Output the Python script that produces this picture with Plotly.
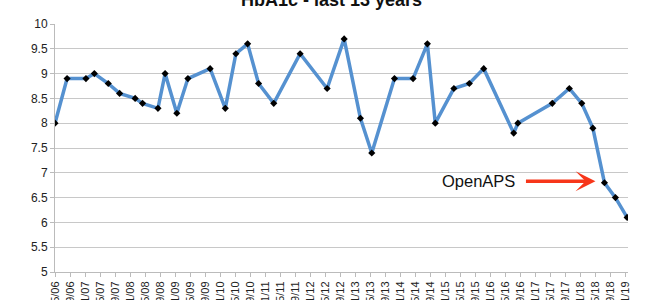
import plotly.graph_objects as go

dates = ["2006-05-01", "2006-08-07", "2007-01-07", "2007-03-16", "2007-07-07", "2007-10-07",
         "2008-02-10", "2008-04-10", "2008-08-13", "2008-10-10", "2009-01-13", "2009-04-13",
         "2009-10-10", "2010-02-10", "2010-05-07", "2010-08-10", "2010-11-07", "2011-03-10",
         "2011-10-10", "2012-05-16", "2012-10-01", "2013-02-10", "2013-05-13", "2013-11-13",
         "2014-04-13", "2014-08-07", "2014-10-10", "2015-03-10", "2015-07-13", "2015-11-07",
         "2016-07-07", "2016-08-10", "2017-05-16", "2017-10-01", "2018-01-10", "2018-04-10",
         "2018-07-13", "2018-10-10", "2019-01-13"]
hba1c = [8.0, 8.9, 8.9, 9.0, 8.8, 8.6,
         8.5, 8.4, 8.3, 9.0, 8.2, 8.9,
         9.1, 8.3, 9.4, 9.6, 8.8, 8.4,
         9.4, 8.7, 9.7, 8.1, 7.4, 8.9,
         8.9, 9.6, 8.0, 8.7, 8.8, 9.1,
         7.8, 8.0, 8.4, 8.7, 8.4, 7.9,
         6.8, 6.5, 6.1]

title_text = "HbA1c - last 13 years"
note_text = "OpenAPS"

fig = go.Figure()
fig.add_trace(go.Scatter(
    x=dates, y=hba1c, mode="lines+markers",
    line=dict(color="#5591D0", width=3.5),
    marker=dict(symbol="diamond", color="black", size=5.5),
    showlegend=False, hoverinfo="skip"))

fig.update_layout(
    width=656, height=300,
    margin=dict(l=55, r=28, t=24, b=28),
    paper_bgcolor="white", plot_bgcolor="white",
    font=dict(family="Liberation Sans", color="#222222"),
    xaxis=dict(
        type="date", range=["2006-05-01", "2019-01-20"],
        tick0="2006-05-01", dtick="M4", tickformat="%-m/%y",
        tickangle=-90, tickfont=dict(size=11, color="#222222"),
        showgrid=False, showline=True, linecolor="#BBBBBB", linewidth=1,
        ticks="outside", ticklen=4, tickcolor="#BBBBBB",
        automargin=False, zeroline=False),
    yaxis=dict(
        range=[5, 10], dtick=0.5, tick0=5,
        tickfont=dict(size=12, color="#222222"),
        showgrid=True, gridcolor="#C8C8C8", gridwidth=1,
        showline=True, linecolor="#BBBBBB", linewidth=1,
        ticks="outside", ticklen=4, tickcolor="#BBBBBB",
        automargin=False, zeroline=False),
    annotations=[
        dict(text="<b>" + title_text + "</b>", xref="paper", yref="paper",
             x=0.482, y=1.098, xanchor="center", yanchor="middle",
             showarrow=False, font=dict(size=18, color="#111111", family="Liberation Sans")),
        dict(text=note_text, xref="x", yref="y", x="2015-09-25", y=6.83,
             xanchor="center", yanchor="middle", showarrow=False,
             font=dict(size=16.5, color="#111111", family="Liberation Sans")),
        dict(text="", xref="x", yref="y", x="2018-05-01", y=6.83,
             ax=-71, ay=0, showarrow=True, arrowhead=3, arrowsize=0.95,
             arrowwidth=3.5, arrowcolor="#F7361A"),
    ],
)

fig.write_html("out.html")
